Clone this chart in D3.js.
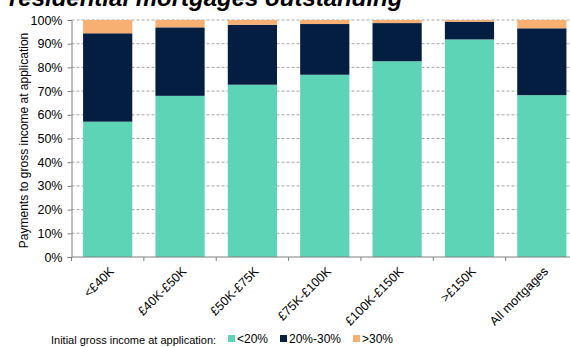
<!DOCTYPE html>
<html><head><meta charset="utf-8">
<script src="https://cdn.jsdelivr.net/npm/d3@7"></script>
<style>body{margin:0;background:#fff;overflow:hidden}svg{display:block;font-family:"Liberation Sans",Arial,sans-serif}</style>
</head><body><svg id="c" width="570" height="347"></svg>
<script>
const categories = ["<£40K","£40K-£50K","£50K-£75K","£75K-£100K","£100K-£150K",">£150K","All mortgages"];
const seriesNames = ["<20%","20%-30%",">30%"];
const lt20 = [57.1, 68.0, 72.7, 76.9, 82.6, 91.8, 68.3];
const mid = [37.3, 28.9, 25.3, 21.4, 16.1, 7.5, 28.2];
const gt30 = [5.6, 3.1, 2.0, 1.7, 1.3, 0.7, 3.5];
const yTicks = [0,10,20,30,40,50,60,70,80,90,100];
const colors = ["#5dd4b5","#041e42","#f8af72"];

(function(){
const svg = d3.select("#c");
const mL = 71.5, mR = 578, mT = 20, mB = 257;
const x = d3.scaleBand().domain(categories).range([mL, mR]).paddingInner(0.32).paddingOuter(0.16);
const y = d3.scaleLinear().domain([0,100]).range([mB, mT]);

svg.append("text").attr("x", 9).attr("y", 6).attr("font-size", 24).attr("font-weight", "bold")
  .attr("font-style", "italic").attr("fill", "#000").text("residential mortgages outstanding");

svg.append("g").selectAll("line").data(yTicks.filter(d=>d>0)).join("line")
  .attr("x1", mL).attr("x2", 570).attr("y1", d=>y(d)).attr("y2", d=>y(d))
  .attr("stroke", "#a6a6a6").attr("stroke-dasharray", "3,2").attr("stroke-width", 1);

const data = categories.map((c,i)=>({cat:c, "<20%":lt20[i], "20%-30%":mid[i], ">30%":gt30[i]}));
const stack = d3.stack().keys(seriesNames)(data);
svg.append("g").selectAll("g").data(stack).join("g").attr("fill",(d,i)=>colors[i])
  .selectAll("rect").data(d=>d).join("rect")
  .attr("x", d=>x(d.data.cat)).attr("width", x.bandwidth())
  .attr("y", d=>y(d[1])).attr("height", d=>y(d[0])-y(d[1]));

const ya = svg.append("g").attr("transform", `translate(${mL},0)`)
  .call(d3.axisLeft(y).tickValues(yTicks).tickFormat(d=>d+"%").tickSizeOuter(0).tickSize(4).tickPadding(5));
ya.selectAll("text").attr("font-size", 12.5).attr("fill","#000").attr("font-family","Liberation Sans, Arial, sans-serif");
ya.selectAll("line,path").attr("stroke","#808080");

const xa = svg.append("g").attr("transform", `translate(0,${mB})`);
xa.append("line").attr("x1", mL).attr("x2", 570).attr("y1",0).attr("y2",0).attr("stroke","#808080");
const bounds = d3.range(categories.length+1).map(i=>mL + i*(mR-mL)/categories.length);
xa.selectAll("line.t").data(bounds).join("line").attr("class","t")
  .attr("x1", d=>d).attr("x2", d=>d).attr("y1",0).attr("y2",4).attr("stroke","#808080");
xa.selectAll("text").data(categories).join("text")
  .attr("transform", d=>`translate(${x(d)+x.bandwidth()/2+4},${12}) rotate(-45)`)
  .attr("text-anchor","end").attr("dy","0.35em").attr("font-size",12.5).attr("fill","#000").text(d=>d);

svg.append("text").attr("transform", `translate(28,${(mT+mB)/2 + 2}) rotate(-90)`)
  .attr("text-anchor","middle").attr("font-size",12).attr("fill","#000")
  .text("Payments to gross income at application");

const lg = svg.append("g").attr("font-size", 11).attr("fill","#000");
lg.append("text").attr("x", 51).attr("y", 344).text("Initial gross income at application:");
const lx = [228, 280, 353];
seriesNames.forEach((s,i)=>{
  lg.append("rect").attr("x", lx[i]).attr("y", 335).attr("width", 7).attr("height", 7).attr("fill", colors[i]);
  lg.append("text").attr("x", lx[i]+9).attr("y", 343).attr("font-size", 12).text(s);
});
})();
</script></body></html>
